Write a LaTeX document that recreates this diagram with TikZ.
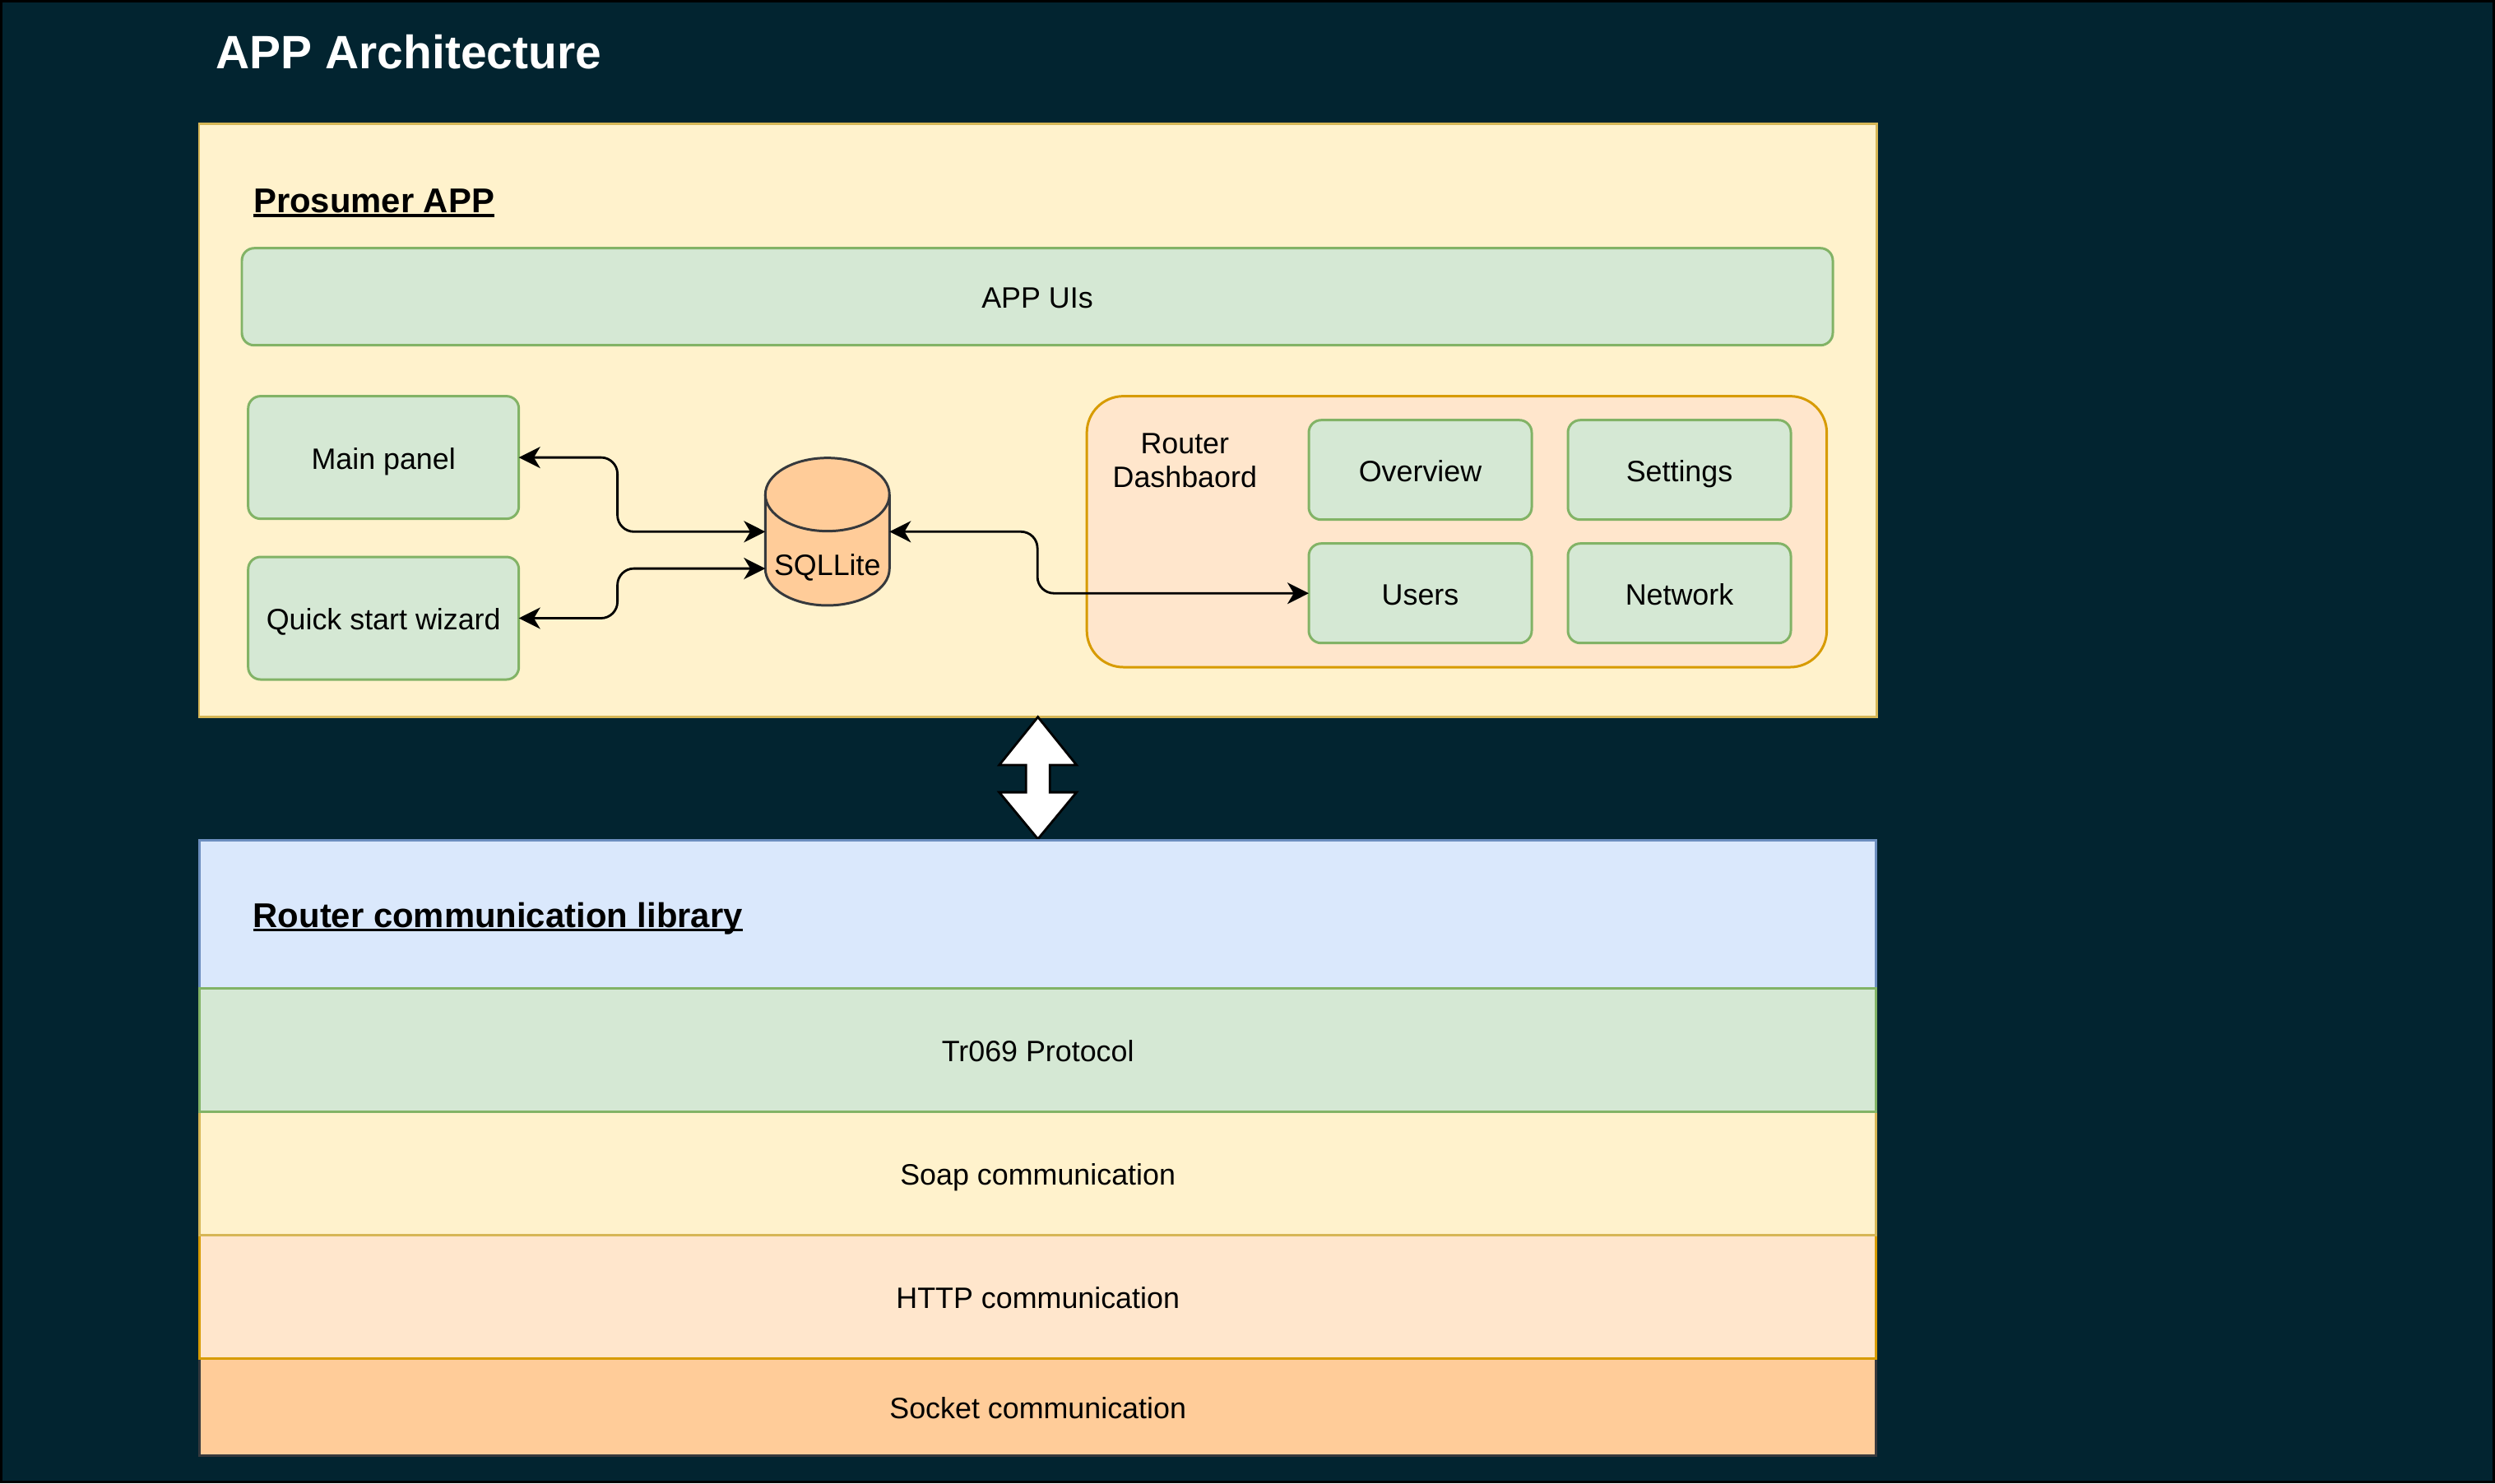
\documentclass[tikz,border=0pt]{standalone}
\usepackage{fontspec}
\setmainfont{Liberation Sans}
\usetikzlibrary{positioning,arrows.meta}

\definecolor{bgdark}{HTML}{022430}
\definecolor{greenfill}{HTML}{D5E8D4}
\definecolor{greenline}{HTML}{82B366}
\definecolor{yellowfill}{HTML}{FFF2CC}
\definecolor{yellowline}{HTML}{D6B656}
\definecolor{peachfill}{HTML}{FFE6CC}
\definecolor{peachline}{HTML}{D79B00}
\definecolor{orangefill}{HTML}{FFCC99}
\definecolor{orangeline}{HTML}{36393D}
\definecolor{bluefill}{HTML}{DAE8FC}
\definecolor{blueline}{HTML}{6C8EBF}

\newcommand{\bodysz}{\fontsize{10.2pt}{11.8pt}\selectfont}
\newcommand{\headsz}{\fontsize{11.9pt}{14pt}\selectfont\bfseries}
\newcommand{\titlesz}{\fontsize{16.2pt}{19pt}\selectfont\bfseries}
\newsavebox{\headbox}
\newcommand{\headline}[1]{\sbox{\headbox}{#1}\rlap{\usebox{\headbox}}\rule[-1.5pt]{\wd\headbox}{0.9pt}}

\begin{document}
\begin{tikzpicture}[
    uibox/.style={rectangle, rounded corners=0.15cm, draw=greenline, fill=greenfill, line width=0.85pt, font=\bodysz, text=black, inner sep=0pt, outer sep=0pt, text height=8.1pt, text depth=0pt},
    panel/.style={rectangle, draw=yellowline, fill=yellowfill, line width=0.85pt, inner sep=0pt, outer sep=0pt},
    layer/.style={rectangle, minimum width=20.38cm, line width=0.85pt, font=\bodysz, inner sep=0pt, outer sep=0pt, text height=8.1pt, text depth=0pt},
    head/.style={font=\headsz, inner sep=0pt, anchor=base west},
    conn/.style={<->, >={Stealth[length=7.4pt, width=7.4pt, inset=2.2pt]}, line width=0.8pt, rounded corners=0.2cm}
]
    % background and frame
    \useasboundingbox (0,0) rectangle (30.33,-18.03);
    \fill[black] (0,0) rectangle (30.33,-18.03);
    \fill[bgdark] (0.03,-0.03) rectangle (30.30,-18.00);

    \node[font=\titlesz, text=white, inner sep=0pt, anchor=base west] (title) at (2.62,-0.833) {APP Architecture};

    % Prosumer APP
    \node[panel, minimum width=20.39cm, minimum height=7.21cm] (prosumer) at (12.615,-5.113) {};
    \node[head] (prosumertitle) at (3.074,-2.583) {\headline{Prosumer APP}};
    \node[uibox, minimum width=19.34cm, minimum height=1.18cm] (appuis) at (12.61,-3.607) {APP UIs};

    \node[uibox, minimum width=3.29cm, minimum height=1.49cm] (main) at (4.662,-5.561) {Main panel};
    \node[uibox, minimum width=3.29cm, minimum height=1.49cm] (wizard) at (4.662,-7.515) {Quick start wizard};

    % SQLLite cylinder
    \node[minimum width=1.509cm, minimum height=1.793cm, inner sep=0pt, outer sep=0pt] (db) at (10.058,-6.463) {};
    \filldraw[fill=orangefill, draw=orangeline, line width=0.85pt]
        ([yshift=-0.445cm]db.north west) -- ([yshift=0.445cm]db.south west)
        arc[start angle=180, end angle=360, x radius=0.7545cm, y radius=0.445cm]
        -- ([yshift=-0.445cm]db.north east)
        arc[start angle=0, end angle=180, x radius=0.7545cm, y radius=0.445cm] -- cycle;
    \draw[draw=orangeline, line width=0.85pt] ([yshift=-0.445cm]db.north west)
        arc[start angle=180, end angle=360, x radius=0.7545cm, y radius=0.445cm];
    \node[font=\bodysz, inner sep=0pt, text height=8.1pt, text depth=0pt] (dblabel) at ([yshift=-0.39cm]db.center) {SQLLite};

    % Router dashboard
    \node[rectangle, rounded corners=0.445cm, draw=peachline, fill=peachfill, line width=0.85pt,
          minimum width=8.995cm, minimum height=3.294cm] (dashboard) at (17.709,-6.463) {};
    \node[font=\bodysz, align=center, inner sep=0pt] (dashlabel) at (14.403,-5.60) {Router\\Dashbaord};
    \node[uibox, minimum width=2.71cm, minimum height=1.21cm] (overview) at (17.265,-5.712) {Overview};
    \node[uibox, minimum width=2.71cm, minimum height=1.21cm, right=0.44cm of overview] (settings) {Settings};
    \node[uibox, minimum width=2.71cm, minimum height=1.21cm, below=0.29cm of overview] (users) {Users};
    \node[uibox, minimum width=2.71cm, minimum height=1.21cm, below=0.29cm of settings] (network) {Network};

    \draw[conn] (main.east) -- ++(1.199,0) |- (db.west);
    \draw[conn] (wizard.east) -- ++(1.199,0) |- ([yshift=-0.448cm]db.west);
    \draw[conn] (db.east) -- ++(1.799,0) |- (users.west);

    % big double arrow
    \filldraw[fill=white, draw=black, line width=0.8pt, line join=miter]
        (12.617,-8.716) -- (13.087,-9.300) -- (12.762,-9.300) -- (12.762,-9.631) -- (13.087,-9.631)
        -- (12.617,-10.199) -- (12.147,-9.631) -- (12.472,-9.631) -- (12.472,-9.300) -- (12.147,-9.300) -- cycle;

    % Router communication library
    \node[layer, draw=blueline, fill=bluefill, minimum height=1.80cm] (commhead) at (12.617,-11.116) {};
    \node[head] (commtitle) at (3.07,-11.27) {\headline{Router communication library}};
    \node[layer, draw=orangeline, fill=orangefill, minimum height=1.184cm] (socket) at (12.617,-17.107) {Socket communication};
    \node[layer, draw=peachline, fill=peachfill, minimum height=1.50cm, above=0pt of socket] (http) {HTTP communication};
    \node[layer, draw=yellowline, fill=yellowfill, minimum height=1.50cm, above=0pt of http] (soap) {Soap communication};
    \node[layer, draw=greenline, fill=greenfill, minimum height=1.50cm, above=0pt of soap] (tr069) {Tr069 Protocol};
\end{tikzpicture}
\end{document}
